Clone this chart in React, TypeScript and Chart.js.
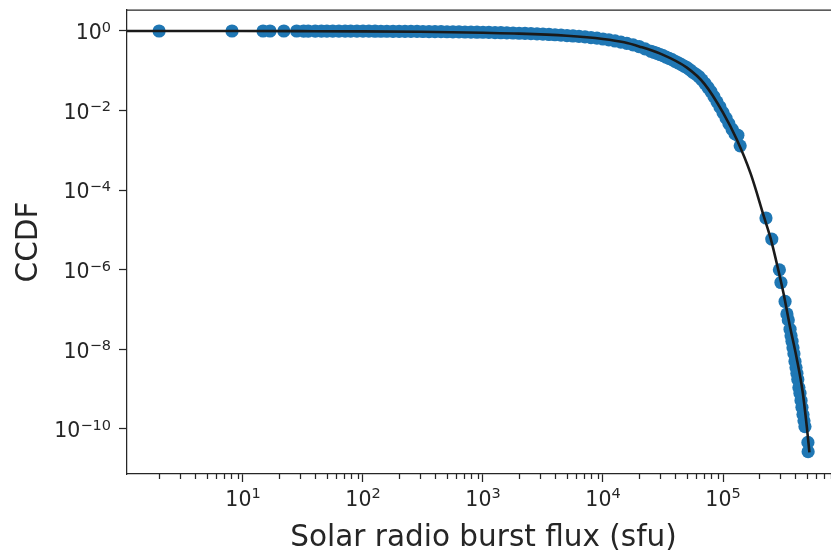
import React, { useEffect, useRef } from 'react';
import { Chart, registerables } from 'chart.js';

Chart.register(...registerables);

// Empirical CCDF points (flux in sfu, CCDF)
const fluxValues = [
  2, 8.1, 14.7, 16.8, 21.9, 28, 32, 35, 40, 45, 50, 56, 63, 71, 79, 89,
  100, 112, 126, 141, 158, 178, 200, 224, 251, 282, 316, 355, 398, 447, 501, 562, 631, 708, 794, 891,
  1000, 1120, 1260, 1410, 1580, 1780, 2000, 2240, 2510, 2820, 3160, 3550, 3980, 4470, 5010, 5620, 6310, 7080, 7940, 8910,
  10000, 11200, 12600, 14100, 15800, 17800, 20000, 22400, 25100, 26600, 28200, 29900, 31600, 33500, 35500, 37600, 39800, 42200,
  44700, 47300, 50100, 53100, 56200, 59600, 63100, 66800, 70800, 75000, 79400, 84100, 89100, 94400,
  100000, 106000, 112000, 119000, 126000, 133000, 139000,
  228000, 255000, 295000, 304000, 329000, 341000, 350000, 362000, 369000, 376000, 383000, 390000, 398000, 406000, 413000, 420000,
  429000, 438000, 447000, 455000, 464000, 473000, 482000, 510000, 512000,
];
const ccdfValues = [
  1.0, 1.0, 0.9999, 0.9999, 0.9998, 0.999, 0.998, 0.998, 0.997, 0.997, 0.996, 0.995, 0.994, 0.993, 0.992, 0.991,
  0.99, 0.989, 0.988, 0.987, 0.986, 0.984, 0.982, 0.98, 0.977, 0.974, 0.971, 0.968, 0.966, 0.962, 0.958, 0.954, 0.95, 0.944, 0.938, 0.932,
  0.929, 0.92, 0.912, 0.905, 0.9, 0.89, 0.877, 0.87, 0.861, 0.85, 0.835, 0.818, 0.804, 0.785, 0.765, 0.75, 0.733, 0.71, 0.685, 0.66,
  0.63, 0.6, 0.562, 0.525, 0.49, 0.45, 0.407, 0.355, 0.31, 0.292, 0.275, 0.257, 0.24, 0.221, 0.205, 0.19, 0.174, 0.159,
  0.145, 0.132, 0.12, 0.105, 0.091, 0.081, 0.071, 0.059, 0.048, 0.038, 0.03, 0.0224, 0.0166, 0.0123,
  0.0089, 0.0065, 0.0047, 0.0034, 0.0026, 0.0024, 0.0013,
  2.0e-5, 5.9e-6, 1.0e-6, 4.8e-7, 1.6e-7, 7.8e-8, 5.5e-8, 3.2e-8, 2.2e-8, 1.6e-8, 1.1e-8, 7.8e-9, 5.0e-9, 3.5e-9, 2.5e-9, 1.75e-9,
  1.1e-9, 7.9e-10, 5.2e-10, 3.5e-10, 2.3e-10, 1.6e-10, 1.15e-10, 4.6e-11, 2.7e-11,
];

// Fitted model curve
const fitFlux = [
  1, 3, 10, 30, 100, 300, 1000, 2000, 5000, 10000, 15000, 20000, 30000, 50000, 70000, 100000,
  130000, 170000, 220000, 250000, 290000, 320000, 360000, 410000, 460000, 500000, 525000,
];
const fitCcdf = [
  1.0, 0.999, 0.996, 0.99, 0.98, 0.955, 0.9, 0.86, 0.76, 0.63, 0.52, 0.41, 0.27, 0.12, 0.047, 0.0089,
  0.0019, 2.6e-4, 2.1e-5, 6e-6, 9.5e-7, 2.5e-7, 4e-8, 6.3e-9, 9e-10, 1.1e-10, 2.6e-11,
];

// Axis ticks (labels are 10 raised to the exponent strings)
const xMajorTicks = [10, 100, 1000, 10000, 100000];
const xMajorExponents = ['1', '2', '3', '4', '5'];
const xMinorMantissas = [2, 3, 4, 5, 6, 7, 8, 9];
const xMinorDecades = [1, 10, 100, 1000, 10000, 100000];
const yMajorTicks = [1, 1e-2, 1e-4, 1e-6, 1e-8, 1e-10];
const yMajorExponents = ['0', '\u22122', '\u22124', '\u22126', '\u22128', '\u221210'];

const xMinorTicks: number[] = [];
xMinorDecades.forEach((d) => xMinorMantissas.forEach((m) => xMinorTicks.push(m * d)));

const INK = '#262626';
const FONT = 'DejaVu Sans';
const BASE_SIZE = 20.5;
const SUP_SIZE = 14.5;

function drawPowerLabel(ctx: any, exp: string, x: number, baseline: number, supRaise: number, align: 'center' | 'right') {
  ctx.font = `${BASE_SIZE}px "${FONT}"`;
  const wBase = ctx.measureText('10').width;
  ctx.font = `${SUP_SIZE}px "${FONT}"`;
  const wSup = ctx.measureText(exp).width;
  const total = wBase + wSup;
  const start = align === 'center' ? x - total / 2 : x - total;
  ctx.textAlign = 'left';
  ctx.textBaseline = 'alphabetic';
  ctx.font = `${BASE_SIZE}px "${FONT}"`;
  ctx.fillText('10', start, baseline);
  ctx.font = `${SUP_SIZE}px "${FONT}"`;
  ctx.fillText(exp, start + wBase, baseline - supRaise);
}

const axisDecor = {
  id: 'axisDecor',
  afterDraw(chart: any) {
    const { ctx, chartArea, scales } = chart;
    const xs = scales.x;
    const ys = scales.y;
    ctx.save();
    ctx.strokeStyle = INK;
    ctx.lineWidth = 1.25;
    ctx.beginPath();
    xMinorTicks.forEach((v) => {
      if (v < xs.min || v > xs.max) return;
      const px = Math.round(xs.getPixelForValue(v)) + 0.5;
      ctx.moveTo(px, chartArea.bottom);
      ctx.lineTo(px, chartArea.bottom + 5);
    });
    ctx.moveTo(chartArea.left, chartArea.top);
    ctx.lineTo(chartArea.right, chartArea.top);
    ctx.stroke();

    ctx.fillStyle = INK;
    xMajorTicks.forEach((v, i) => {
      const px = xs.getPixelForValue(v);
      drawPowerLabel(ctx, xMajorExponents[i], px, chartArea.bottom + 32, 7.7, 'center');
    });
    yMajorTicks.forEach((v, i) => {
      const py = ys.getPixelForValue(v);
      drawPowerLabel(ctx, yMajorExponents[i], 111, py + 8.2, 7.3, 'right');
    });
    ctx.restore();
  },
};

export default function App() {
  const ref = useRef<HTMLCanvasElement | null>(null);

  useEffect(() => {
    if (!ref.current) return;
    const scatterData = fluxValues.map((x, i) => ({ x, y: ccdfValues[i] }));
    const fitData = fitFlux.map((x, i) => ({ x, y: fitCcdf[i] }));

    const chart = new Chart(ref.current, {
      type: 'scatter',
      data: {
        datasets: [
          {
            label: 'fit',
            data: fitData,
            showLine: true,
            borderColor: '#1a1a1a',
            borderWidth: 2.6,
            pointRadius: 0,
            cubicInterpolationMode: 'monotone',
            order: 0,
          } as any,
          {
            label: 'data',
            data: scatterData,
            backgroundColor: '#1f77b4',
            pointRadius: 6.6,
            pointBorderWidth: 0,
            borderWidth: 0,
            order: 1,
          } as any,
        ],
      },
      options: {
        animation: false,
        responsive: false,
        devicePixelRatio: 1,
        events: [],
        layout: { autoPadding: false, padding: { top: 10, left: 0, right: 0, bottom: 0 } },
        plugins: { legend: { display: false }, tooltip: { enabled: false } },
        scales: {
          x: {
            type: 'logarithmic',
            min: 1.08,
            max: 9.44e5,
            bounds: 'data',
            afterBuildTicks: (scale: any) => {
              scale.ticks = xMajorTicks.map((v) => ({ value: v, major: true }));
            },
            afterFit: (scale: any) => {
              scale.height = 76;
              scale.paddingLeft = 0;
              scale.paddingRight = 0;
              scale.paddingTop = 0;
              scale.paddingBottom = 0;
            },
            ticks: {
              autoSkip: false,
              maxRotation: 0,
              color: INK,
              font: { family: FONT, size: 20 },
              callback: () => '',
            },
            grid: {
              display: true,
              drawOnChartArea: false,
              drawTicks: true,
              tickLength: 8,
              tickWidth: 1.25,
              tickColor: INK,
            },
            border: { display: true, color: INK, width: 1.25 },
            title: {
              display: true,
              text: 'Solar radio burst flux (sfu)',
              color: INK,
              font: { family: FONT, size: 29.5, lineHeight: 0.8 },
              padding: 0,
            },
          },
          y: {
            type: 'logarithmic',
            min: 7.4e-12,
            max: 3.37,
            bounds: 'data',
            afterBuildTicks: (scale: any) => {
              scale.ticks = yMajorTicks
                .slice()
                .sort((a, b) => a - b)
                .map((v) => ({ value: v, major: true }));
            },
            afterFit: (scale: any) => {
              scale.width = 127;
              scale.paddingLeft = 0;
              scale.paddingRight = 0;
              scale.paddingTop = 0;
              scale.paddingBottom = 0;
            },
            ticks: {
              autoSkip: false,
              color: INK,
              font: { family: FONT, size: 20 },
              callback: () => '',
            },
            grid: {
              display: true,
              drawOnChartArea: false,
              drawTicks: true,
              tickLength: 8,
              tickWidth: 1.25,
              tickColor: INK,
            },
            border: { display: true, color: INK, width: 1.25 },
            title: {
              display: true,
              text: 'CCDF',
              color: INK,
              font: { family: FONT, size: 29.5, lineHeight: 1 },
              padding: { top: 15, bottom: 0 },
            },
          },
        },
      },
      plugins: [axisDecor],
    });
    return () => chart.destroy();
  }, []);

  return (
    <div style={{ position: 'absolute', left: 0, top: 0, width: 831, height: 550, overflow: 'hidden', background: '#fff' }}>
      <canvas ref={ref} width={840} height={550} style={{ display: 'block' }} />
    </div>
  );
}
